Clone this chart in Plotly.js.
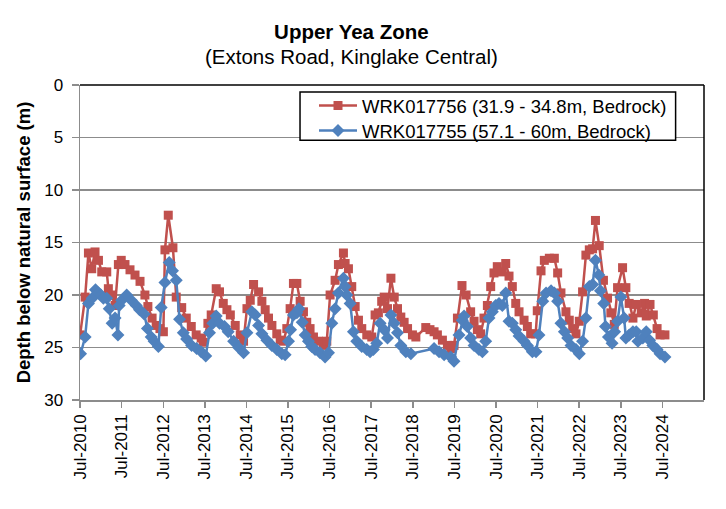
<!DOCTYPE html>
<html>
<head>
<meta charset="utf-8">
<script src="https://cdn.plot.ly/plotly-3.0.1.min.js"></script>
<style>
  html, body { margin: 0; padding: 0; background: #ffffff; }
  #chart { width: 726px; height: 509px; }
</style>
</head>
<body>
<div id="chart"></div>
<script>
// ---- Data (decimal years, depth below natural surface in m) ----
const chartTitle = "Upper Yea Zone";
const chartSubtitle = "(Extons Road, Kinglake Central)";
const redName = "WRK017756 (31.9 - 34.8m, Bedrock)";
const redYears = [2010.50,2010.62,2010.70,2010.78,2010.86,2010.94,2011.02,2011.14,2011.18,2011.26,2011.34,2011.42,2011.49,2011.58,2011.70,2011.82,2011.94,2012.06,2012.13,2012.23,2012.33,2012.42,2012.50,2012.54,2012.62,2012.73,2012.81,2012.94,2013.05,2013.17,2013.29,2013.41,2013.46,2013.57,2013.65,2013.77,2013.85,2013.94,2014.03,2014.11,2014.23,2014.35,2014.43,2014.51,2014.59,2014.67,2014.79,2014.87,2014.95,2015.03,2015.11,2015.23,2015.31,2015.39,2015.47,2015.55,2015.63,2015.71,2015.79,2015.87,2015.95,2016.03,2016.11,2016.23,2016.35,2016.43,2016.51,2016.63,2016.71,2016.83,2016.87,2016.95,2017.03,2017.11,2017.19,2017.27,2017.39,2017.51,2017.59,2017.67,2017.75,2017.81,2017.89,2017.97,2018.05,2018.13,2018.21,2018.29,2018.37,2018.49,2018.57,2018.81,2018.91,2019.01,2019.09,2019.21,2019.33,2019.41,2019.49,2019.57,2019.68,2019.78,2019.89,2019.97,2020.05,2020.13,2020.21,2020.29,2020.37,2020.45,2020.53,2020.65,2020.73,2020.81,2020.89,2020.97,2021.05,2021.17,2021.25,2021.33,2021.45,2021.49,2021.58,2021.66,2021.78,2021.90,2021.98,2022.06,2022.18,2022.26,2022.34,2022.42,2022.50,2022.58,2022.66,2022.74,2022.82,2022.89,2022.98,2023.08,2023.18,2023.26,2023.34,2023.42,2023.54,2023.62,2023.70,2023.79,2023.87,2023.99,2024.07,2024.11,2024.20,2024.28,2024.37,2024.44,2024.56];
const redDepth = [23.8,20.2,16.0,17.5,15.9,16.7,17.8,17.8,19.4,20.0,21.0,17.1,16.7,17.1,17.6,18.1,18.7,20.0,21.1,22.2,22.9,23.2,23.5,15.7,12.4,15.5,20.2,21.2,22.2,23.0,23.8,24.1,24.5,22.7,21.9,19.4,19.7,20.8,21.4,21.9,22.9,23.8,24.4,21.3,20.5,19.0,19.7,20.6,21.4,22.2,22.9,23.7,24.3,24.4,23.2,21.3,18.9,18.9,20.6,21.6,22.6,23.2,24.0,24.4,24.8,24.4,20.0,18.6,17.1,16.0,17.0,17.5,19.2,21.1,22.4,23.2,23.8,24.0,21.9,21.7,20.6,20.2,21.3,18.4,20.2,21.3,22.1,22.6,23.2,23.8,24.0,23.1,23.3,23.5,23.8,24.3,24.8,25.1,24.8,22.2,19.1,20.0,21.6,22.5,23.3,23.7,22.2,21.0,19.2,17.9,17.3,17.8,17.0,18.2,19.2,20.8,21.6,22.4,23.0,23.7,23.7,21.5,17.7,16.7,16.5,16.5,17.9,19.8,21.6,22.4,23.2,23.7,22.5,19.7,16.2,15.7,15.6,12.9,15.3,18.6,20.3,21.7,22.8,19.3,17.4,19.3,20.8,22.2,20.9,21.7,20.8,22.0,20.9,21.9,23.2,23.8,23.8];

const blueName = "WRK017755 (57.1 - 60m, Bedrock)";
const blueYears = [2010.51,2010.62,2010.70,2010.79,2010.87,2010.94,2011.00,2011.06,2011.14,2011.20,2011.27,2011.34,2011.41,2011.44,2011.50,2011.62,2011.73,2011.85,2011.93,2012.04,2012.12,2012.21,2012.28,2012.38,2012.45,2012.54,2012.64,2012.72,2012.81,2012.89,2012.98,2013.06,2013.18,2013.30,2013.41,2013.52,2013.61,2013.69,2013.77,2013.85,2013.97,2014.06,2014.19,2014.31,2014.43,2014.51,2014.63,2014.71,2014.79,2014.87,2014.99,2015.11,2015.23,2015.35,2015.43,2015.51,2015.56,2015.63,2015.71,2015.76,2015.84,2015.91,2015.99,2016.07,2016.15,2016.27,2016.39,2016.47,2016.55,2016.63,2016.71,2016.83,2016.87,2016.91,2016.99,2017.07,2017.15,2017.27,2017.39,2017.47,2017.55,2017.63,2017.71,2017.81,2017.89,2017.97,2018.05,2018.13,2018.21,2018.33,2018.45,2019.01,2019.13,2019.25,2019.41,2019.49,2019.61,2019.69,2019.73,2019.81,2019.89,2019.97,2020.09,2020.17,2020.25,2020.33,2020.41,2020.49,2020.57,2020.65,2020.73,2020.81,2020.89,2020.97,2021.05,2021.17,2021.25,2021.37,2021.46,2021.53,2021.62,2021.70,2021.82,2021.90,2021.98,2022.06,2022.14,2022.22,2022.30,2022.42,2022.50,2022.58,2022.66,2022.74,2022.82,2022.89,2022.97,2023.01,2023.09,2023.13,2023.20,2023.29,2023.35,2023.42,2023.50,2023.58,2023.62,2023.70,2023.79,2023.87,2023.91,2024.03,2024.11,2024.19,2024.27,2024.37,2024.44,2024.56];
const blueDepth = [25.6,24.0,20.8,20.3,19.5,19.8,20.0,20.3,20.3,21.3,22.7,22.2,23.8,21.0,20.5,20.0,20.5,21.0,21.4,21.8,23.2,24.0,24.4,24.9,21.2,18.8,16.9,17.7,18.6,22.3,23.6,24.2,24.8,25.1,25.4,25.8,23.6,22.7,22.0,22.7,23.0,23.5,24.4,25.0,25.5,23.6,21.6,21.9,22.9,23.7,24.3,24.8,25.2,25.6,25.7,24.4,23.3,21.9,21.7,21.3,22.6,23.8,24.4,24.9,25.2,25.5,25.9,25.5,22.7,21.3,19.8,18.4,19.2,20.0,20.8,23.5,24.4,24.9,25.2,25.4,25.2,24.6,22.7,23.3,24.1,21.9,22.7,23.6,24.8,25.4,25.6,25.1,25.4,25.7,25.9,26.3,23.8,22.4,22.0,23.0,24.1,24.8,25.2,25.4,24.4,22.2,21.6,21.0,20.8,21.0,19.8,22.5,22.7,23.3,23.9,24.4,24.8,25.4,25.4,23.8,20.6,19.8,19.6,19.8,20.6,22.7,23.5,24.1,24.8,25.2,25.6,24.4,22.2,19.2,19.0,16.7,18.1,19.6,20.8,23.0,24.0,24.6,23.5,22.5,20.2,22.2,24.1,23.8,23.5,23.5,24.4,24.1,23.5,24.3,24.8,25.2,25.6,25.9];

const tickYears = [2010,2011,2012,2013,2014,2015,2016,2017,2018,2019,2020,2021,2022,2023,2024];
const tickLabels = tickYears.map(y => "Jul-" + y);
const depthTicks = [0,5,10,15,20,25,30];

function yearToDate(v) {
  const yr = Math.floor(v);
  const a = Date.UTC(yr, 0, 1), b = Date.UTC(yr + 1, 0, 1);
  return new Date(a + (v - yr) * (b - a)).toISOString().slice(0, 10);
}

const FONT = "Liberation Sans, Arial, sans-serif";
const GRID = "#8c8c8c";

const traces = [
  {
    x: redYears.map(yearToDate), y: redDepth, name: redName,
    type: "scatter", mode: "lines+markers", legend: "legend",
    line: { color: "#C0504D", width: 2.5 },
    marker: { symbol: "square", size: 9, color: "#C0504D" }
  },
  {
    x: blueYears.map(yearToDate), y: blueDepth, name: blueName,
    type: "scatter", mode: "lines+markers", legend: "legend2",
    line: { color: "#4F81BD", width: 2.5 },
    marker: { symbol: "diamond", size: 10, color: "#4F81BD" }
  }
];

const legendBase = {
  xanchor: "left", yanchor: "top",
  bgcolor: "rgba(0,0,0,0)", borderwidth: 0,
  font: { family: FONT, size: 18.5, color: "#000000" },
  itemwidth: 38
};

const layout = {
  width: 726, height: 509,
  margin: { l: 80, r: 22, t: 85, b: 109 },
  paper_bgcolor: "#ffffff", plot_bgcolor: "#ffffff",
  font: { family: FONT, color: "#000000", size: 17 },
  title: {
    text: "<b>" + chartTitle + "</b>",
    font: { family: FONT, size: 20.5, color: "#000000" },
    xref: "container", x: 0.484, xanchor: "center",
    yref: "container", y: 1 - 32 / 509, yanchor: "middle"
  },
  annotations: [
    { text: chartSubtitle, xref: "paper", yref: "paper",
      x: (351 - 80) / 624, y: (400 - 56) / 315, xanchor: "center", yanchor: "middle",
      showarrow: false, font: { family: FONT, size: 20.5, color: "#000000" } }
  ],
  xaxis: {
    type: "date",
    range: ["2010-07-01", "2025-07-01"],
    tickmode: "array",
    tickvals: tickYears.map(y => y + "-07-01"),
    ticktext: tickLabels,
    tickangle: -90,
    tickfont: { family: FONT, size: 17 },
    ticks: "outside", ticklen: 6, tickwidth: 1.5, tickcolor: GRID,
    showline: true, linecolor: GRID, linewidth: 1.5,
    showgrid: false, zeroline: false
  },
  yaxis: {
    range: [30, 0],
    tickmode: "array", tickvals: depthTicks,
    tickfont: { family: FONT, size: 17 },
    ticks: "outside", ticklen: 7, tickwidth: 1.5, tickcolor: GRID,
    ticklabelstandoff: 5,
    showline: true, linecolor: GRID, linewidth: 1.5,
    showgrid: true, gridcolor: GRID, gridwidth: 1.5,
    zeroline: false,
    title: { text: "<b>Depth below natural surface (m)</b>", font: { family: FONT, size: 18.5 }, standoff: 8 }
  },
  legend: Object.assign({ x: 0.375, y: (400 - 87) / 315 }, legendBase),
  legend2: Object.assign({ x: 0.375, y: (400 - 112) / 315 }, legendBase),
  shapes: [
    { type: "line", xref: "paper", yref: "paper", x0: 0, x1: 1, y0: 1, y1: 1, line: { color: "#000000", width: 1.5 } },
    { type: "line", xref: "paper", yref: "paper", x0: 1, x1: 1, y0: 0, y1: 1, line: { color: "#000000", width: 1.5 } },
    { type: "rect", xref: "paper", yref: "paper", x0: 0.3526, x1: 0.9545, y0: 0.825, y1: 0.978, fillcolor: "#ffffff", layer: "above", line: { color: "#000000", width: 1.5 } }
  ],
  showlegend: true
};

Plotly.newPlot("chart", traces, layout, { displayModeBar: false, staticPlot: true });
</script>
</body>
</html>
